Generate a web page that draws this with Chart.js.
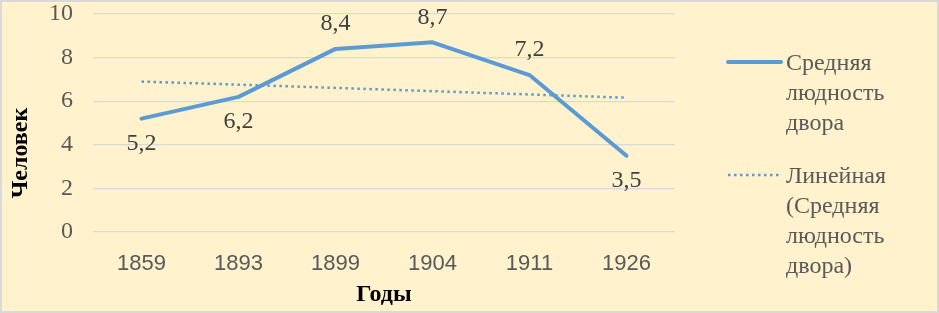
<!DOCTYPE html>
<html>
<head>
<meta charset="utf-8">
<script src="https://cdn.jsdelivr.net/npm/chart.js@4/dist/chart.umd.min.js"></script>
<style>
  html, body { margin: 0; padding: 0; background: #fff; }
  #wrap { position: relative; width: 939px; height: 313px; background: #fff2cc; }
  #frame { position: absolute; left: 0; top: 0; right: 0; bottom: 0; border: 2px solid #d9d9d9; pointer-events: none; }
  canvas { display: block; }
</style>
</head>
<body>
<div id="wrap">
  <canvas id="chart" width="939" height="313"></canvas>
  <div id="frame"></div>
</div>
<script>
// data
var years = ['1859', '1893', '1899', '1904', '1911', '1926'];
var people = [5.2, 6.2, 8.4, 8.7, 7.2, 3.5];
var trend = [6.9, 6.76, 6.61, 6.46, 6.31, 6.16];
var yTicks = [0, 2, 4, 6, 8, 10];
var labelSide = ['below', 'below', 'above', 'above', 'above', 'below'];

var seriesName = ['Средняя', 'людность', 'двора'];
var trendName = ['Линейная', '(Средняя', 'людность', 'двора)'];

var BLUE = '#5b9bd5';
var SERIF = "'Liberation Serif', 'Times New Roman', serif";
var SANS = "'Liberation Sans', Arial, sans-serif";

// value labels, axis title and legend drawn by hand
var extras = {
    id: 'extras',
    afterDatasetsDraw: function (chart) {
        var ctx = chart.ctx;
        var meta = chart.getDatasetMeta(0);
        ctx.save();
        ctx.font = '24px ' + SERIF;
        ctx.fillStyle = '#404040';
        ctx.textAlign = 'center';
        ctx.textBaseline = 'middle';
        meta.data.forEach(function (pt, i) {
            var txt = String(people[i]).replace('.', ',');
            var dy = labelSide[i] === 'above' ? -25 : 25;
            ctx.fillText(txt, pt.x, pt.y + dy);
        });
        ctx.restore();
    },
    afterDraw: function (chart) {
        var ctx = chart.ctx;
        ctx.save();
        // y axis title
        ctx.translate(21, 153);
        ctx.rotate(-Math.PI / 2);
        ctx.font = 'bold 24px ' + SERIF;
        ctx.fillStyle = '#000';
        ctx.textAlign = 'center';
        ctx.textBaseline = 'middle';
        ctx.fillText('Человек', 0, 0);
        ctx.restore();

        // legend
        ctx.save();
        ctx.font = '24px ' + SERIF;
        ctx.fillStyle = '#595959';
        ctx.textAlign = 'left';
        ctx.textBaseline = 'middle';
        ctx.strokeStyle = BLUE;
        ctx.lineCap = 'round';
        ctx.lineWidth = 4;
        ctx.beginPath();
        ctx.moveTo(728, 62);
        ctx.lineTo(781, 62);
        ctx.stroke();
        seriesName.forEach(function (t, i) { ctx.fillText(t, 786, 64 + i * 30); });

        ctx.lineWidth = 2.5;
        ctx.lineCap = 'butt';
        ctx.setLineDash([2.5, 3.5]);
        ctx.beginPath();
        ctx.moveTo(728, 175);
        ctx.lineTo(782, 175);
        ctx.stroke();
        trendName.forEach(function (t, i) { ctx.fillText(t, 786, 177 + i * 30); });
        ctx.restore();
    }
};

new Chart(document.getElementById('chart'), {
    type: 'line',
    data: {
        labels: years,
        datasets: [
            { label: seriesName.join(' '), data: people, borderColor: BLUE, borderWidth: 4,
              pointRadius: 0, tension: 0, borderJoinStyle: 'round', borderCapStyle: 'round' },
            { label: trendName.join(' '), data: trend, borderColor: BLUE, borderWidth: 2.5,
              borderDash: [2.5, 3.5], pointRadius: 0, tension: 0 }
        ]
    },
    options: {
        responsive: false,
        animation: false,
        layout: { padding: { top: 14, right: 264, bottom: 0, left: 0 } },
        plugins: { legend: { display: false }, tooltip: { enabled: false } },
        scales: {
            x: {
                offset: true,
                afterFit: function (scale) { scale.height = 81; },
                grid: { display: false, drawTicks: false },
                border: { display: false },
                ticks: { color: '#595959', font: { family: SANS, size: 22 }, padding: 19, maxRotation: 0 },
                title: { display: true, text: 'Годы', color: '#000', font: { family: SERIF, size: 24, weight: 'bold' }, padding: { top: 3, bottom: 4 } }
            },
            y: {
                min: 0,
                max: 10,
                afterBuildTicks: function (scale) { scale.ticks = yTicks.map(function (v) { return { value: v }; }); },
                afterFit: function (scale) { scale.width = 93; scale.paddingTop = 0; scale.paddingBottom = 0; },
                grid: { color: '#d9d9d9', lineWidth: 1.3, drawTicks: false },
                border: { display: false },
                ticks: { color: '#595959', font: { family: SERIF, size: 24 }, padding: 20 }
            }
        }
    },
    plugins: [extras]
});
</script>
</body>
</html>
